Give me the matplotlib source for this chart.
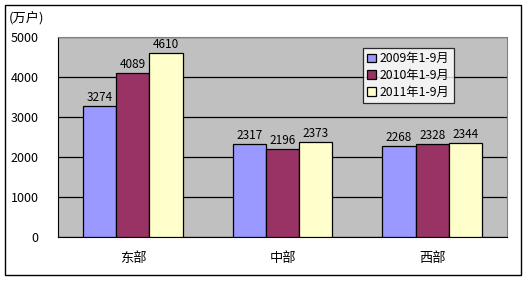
import matplotlib
matplotlib.use('Agg')
import matplotlib.pyplot as plt
import numpy as np
from matplotlib.patches import Rectangle

plt.rcParams['font.family'] = ['Noto Sans CJK SC', 'DejaVu Sans']

regions = ['东部', '中部', '西部']
series = ['2009年1-9月', '2010年1-9月', '2011年1-9月']
v2009 = [3274, 2317, 2268]
v2010 = [4089, 2196, 2328]
v2011 = [4610, 2373, 2344]
colors = ['#9999FF', '#993366', '#FFFFCC']
yticks = [0, 1000, 2000, 3000, 4000, 5000]

W, H = 528, 281
fig = plt.figure(figsize=(W / 100, H / 100), dpi=100)
# outer frame
fig.patches.append(Rectangle((5 / W, 6 / H), 516 / W, 270 / H, transform=fig.transFigure,
                             fill=False, edgecolor='black', linewidth=1))
ax = fig.add_axes([58 / W, (H - 237) / H, 449 / W, 200 / H])
ax.set_facecolor('#C0C0C0')

x = np.arange(len(regions))
bw = 0.222
for i, (vals, c) in enumerate(zip([v2009, v2010, v2011], colors)):
    bars = ax.bar(x + (i - 1) * bw, vals, bw, color=c, edgecolor='black', linewidth=0.9,
                  label=series[i], zorder=3)
    for b, v in zip(bars, vals):
        ax.text(b.get_x() + b.get_width() / 2, v + 50, str(v), ha='center', va='bottom',
                fontsize=8.5, zorder=4)

ax.set_xlim(-0.5, 2.5)
ax.set_ylim(0, 5000)
ax.set_yticks(yticks)
ax.set_yticklabels([str(t) for t in yticks], fontsize=9)
ax.set_xticks(x)
ax.set_xticklabels(regions, fontsize=9.5)
ax.tick_params(axis='y', length=0, pad=14)
ax.tick_params(axis='x', length=0, pad=11)
ax.yaxis.grid(True, color='black', linewidth=0.9, zorder=1)
ax.set_axisbelow(True)
for s in ['top', 'right']:
    ax.spines[s].set_color('#808080')
for s in ['left', 'bottom']:
    ax.spines[s].set_color('black')

fig.text(9 / W, 1 - 18 / H, '(万户)', fontsize=9.5, va='center', ha='left')

leg = ax.legend(loc='upper left', bbox_to_anchor=((363 - 58) / 449, (237 - 48) / 200),
                fontsize=8.8, frameon=True, fancybox=False, edgecolor='black',
                handlelength=0.7, handleheight=0.7, handletextpad=0.3,
                borderpad=0.35, labelspacing=0.3, borderaxespad=0)
leg.get_frame().set_linewidth(0.9)

fig.savefig('out.png', dpi=100)
